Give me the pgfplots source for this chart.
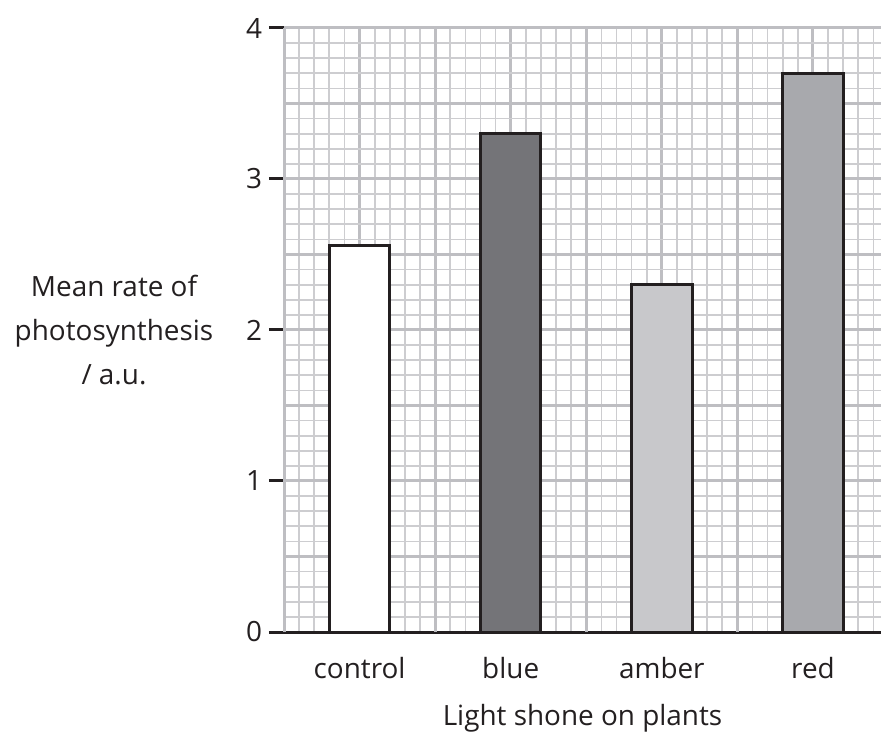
\documentclass[border=0pt]{standalone}
\usepackage{fontspec}
\setmainfont{Open Sans}
\usepackage{pgfplots}
\pgfplotsset{compat=1.18}

\definecolor{axdark}{HTML}{231F20}
\definecolor{gridmajor}{HTML}{BEBEC2}
\definecolor{gridminor}{HTML}{CDCDD0}
\definecolor{barblue}{HTML}{747478}
\definecolor{baramber}{HTML}{C8C8CB}
\definecolor{barred}{HTML}{A8A9AD}

\newcommand{\chartfont}{\fontsize{14}{22}\selectfont}

\begin{document}
\begin{tikzpicture}
\path[use as bounding box] (0,0) rectangle (440.5bp,366.5bp);
\begin{axis}[
    at={(142bp,50.5bp)}, anchor=south west,
    scale only axis,
    width=298.5bp, height=302bp,
    xmin=0, xmax=7.9, ymin=0, ymax=4,
    axis x line=bottom, axis y line=left,
    axis line style={-, line width=1.5bp, color=axdark},
    /pgf/number format/assume math mode=true,
    xtick={1,3,5,7},
    xticklabels={control,blue,amber,red},
    extra x ticks={0,2,4,6},
    extra x tick labels={},
    extra x tick style={grid=major},
    xtick style={draw=none},
    minor xtick={0,0.2,...,7.8},
    ytick={0,1,2,3,4},
    extra y ticks={0.5,1.5,2.5,3.5},
    extra y tick labels={},
    extra y tick style={grid=major, major tick length=0pt},
    minor ytick={0,0.1,...,4},
    tick align=outside,
    major tick length=7.5bp,
    minor tick length=0pt,
    ytick style={draw=axdark, line width=1.5bp},
    grid=both,
    major grid style={draw=gridmajor, line width=1.5bp},
    minor grid style={draw=gridminor, line width=0.85bp},
    xticklabel style={font=\chartfont, anchor=base, yshift=-15.5bp, text=axdark},
    yticklabel style={font=\chartfont, anchor=east, text=axdark},
    xlabel={Light shone on plants},
    xlabel style={font=\chartfont, at={(rel axis cs:0.5,0)}, anchor=base, yshift=-46.5bp, text=axdark},
    ylabel={Mean rate of\\photosynthesis\\/ a.u.},
    ylabel style={font=\chartfont, at={(rel axis cs:0,0.5)}, rotate=-90, anchor=center, xshift=-85bp, align=center, text=axdark},
    bar width=0.8,
]
\addplot[ybar, bar shift=0pt, fill=white, draw=axdark, line width=1.5bp] coordinates {(1,2.56)};
\addplot[ybar, bar shift=0pt, fill=barblue, draw=axdark, line width=1.5bp] coordinates {(3,3.3)};
\addplot[ybar, bar shift=0pt, fill=baramber, draw=axdark, line width=1.5bp] coordinates {(5,2.3)};
\addplot[ybar, bar shift=0pt, fill=barred, draw=axdark, line width=1.5bp] coordinates {(7,3.7)};
\end{axis}
\end{tikzpicture}
\end{document}
